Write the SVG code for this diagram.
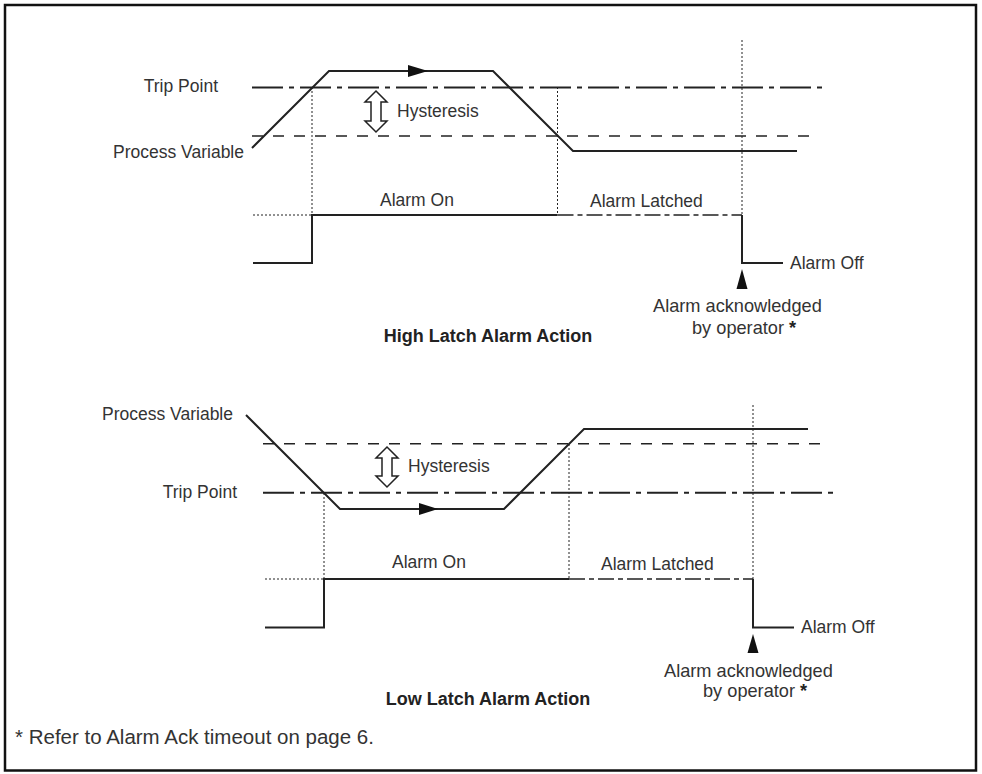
<svg xmlns="http://www.w3.org/2000/svg" width="982" height="774" viewBox="0 0 982 774">
  <style>
    .lbl { font-family: "Liberation Sans", Arial, sans-serif; font-size: 17.5px; fill: #333; }
    .ack { font-size: 18.2px; }
    .foot { font-size: 20.5px; }
    .ttl { font-family: "Liberation Sans", Arial, sans-serif; font-size: 18px; font-weight: bold; fill: #222; }
    .star { font-weight: bold; fill: #222; }
    .pv { fill: none; stroke: #222; stroke-width: 2; stroke-linejoin: miter; }
    .trip { fill: none; stroke: #222; stroke-width: 2; stroke-dasharray: 31 6 5 6; }
    .hyst { fill: none; stroke: #222; stroke-width: 1.5; stroke-dasharray: 11 10; }
    .dot { fill: none; stroke: #222; stroke-width: 1; stroke-dasharray: 2 2; }
    .sig { fill: none; stroke: #222; stroke-width: 2; }
    .latch { fill: none; stroke: #222; stroke-width: 1.5; stroke-dasharray: 16 4 5 4; }
    .harrow { fill: #fff; stroke: #222; stroke-width: 1.5; }
    .tri { fill: #111; stroke: none; }
  </style>

  <rect id="border" x="5" y="5" width="971" height="765.5" fill="#fff" stroke="#111" stroke-width="2.5"/>

  <!-- High latch diagram -->
  <g id="high-latch">
    <g id="high-levels">
      <line class="trip" x1="252" y1="87.5" x2="822" y2="87.5"/>
      <line class="hyst" x1="252" y1="136" x2="817" y2="136"/>
    </g>
    <g id="high-pv">
      <path class="pv" d="M252,148 L329,71 L493,71 L573,151 L797,151"/>
      <polygon class="tri" points="408,65 428,71 408,77"/>
    </g>
    <g id="high-hysteresis">
      <path class="harrow" d="M376,91 L387,102 L381,102 L381,121 L387,121 L376,132 L365,121 L371,121 L371,102 L365,102 Z"/>
      <text class="lbl" x="397" y="117">Hysteresis</text>
    </g>
    <g id="high-guides">
      <line class="dot" x1="312" y1="87" x2="312" y2="215"/>
      <line class="dot" x1="557.5" y1="87" x2="557.5" y2="215"/>
      <line class="dot" x1="742" y1="40" x2="742" y2="215"/>
      <line class="dot" x1="253" y1="215" x2="312" y2="215"/>
    </g>
    <g id="high-signal">
      <path class="sig" d="M253,263 L312,263 L312,215 L557.5,215"/>
      <line class="latch" x1="557.5" y1="215" x2="742" y2="215"/>
      <path class="sig" d="M742,215 L742,263 L783,263"/>
      <polygon class="tri" points="742,269 747.5,289 736.5,289"/>
    </g>
    <g id="high-labels">
      <text class="lbl" x="218" y="92" text-anchor="end">Trip Point</text>
      <text class="lbl" x="244" y="158" text-anchor="end">Process Variable</text>
      <text class="lbl" x="380" y="206">Alarm On</text>
      <text class="lbl" x="590" y="207">Alarm Latched</text>
      <text class="lbl" x="790" y="269">Alarm Off</text>
      <text class="lbl ack" x="653" y="312">Alarm acknowledged</text>
      <text class="lbl ack" x="692" y="334">by operator <tspan class="star">*</tspan></text>
      <text class="ttl" x="488" y="342" text-anchor="middle">High Latch Alarm Action</text>
    </g>
  </g>

  <!-- Low latch diagram -->
  <g id="low-latch">
    <g id="low-levels">
      <line class="hyst" x1="263" y1="443.7" x2="828" y2="443.7"/>
      <line class="trip" x1="263" y1="492.7" x2="833" y2="492.7"/>
    </g>
    <g id="low-pv">
      <path class="pv" d="M246,415 L340,509 L504,509 L584,429 L808,429"/>
      <polygon class="tri" points="419,503 438,509 419,515"/>
    </g>
    <g id="low-hysteresis">
      <path class="harrow" d="M387,447 L398,458 L392,458 L392,476 L398,476 L387,487 L376,476 L382,476 L382,458 L376,458 Z"/>
      <text class="lbl" x="408" y="472">Hysteresis</text>
    </g>
    <g id="low-guides">
      <line class="dot" x1="324" y1="493" x2="324" y2="579"/>
      <line class="dot" x1="569" y1="444" x2="569" y2="579"/>
      <line class="dot" x1="753" y1="405" x2="753" y2="579"/>
      <line class="dot" x1="265" y1="579" x2="324" y2="579"/>
    </g>
    <g id="low-signal">
      <path class="sig" d="M265,627.5 L324,627.5 L324,579 L569,579"/>
      <line class="latch" x1="569" y1="579" x2="753" y2="579"/>
      <path class="sig" d="M753,579 L753,627.5 L794,627.5"/>
      <polygon class="tri" points="753,634 758.5,653 747.5,653"/>
    </g>
    <g id="low-labels">
      <text class="lbl" x="233" y="420" text-anchor="end">Process Variable</text>
      <text class="lbl" x="237" y="498" text-anchor="end">Trip Point</text>
      <text class="lbl" x="392" y="568">Alarm On</text>
      <text class="lbl" x="601" y="570">Alarm Latched</text>
      <text class="lbl" x="801" y="633">Alarm Off</text>
      <text class="lbl ack" x="664" y="677">Alarm acknowledged</text>
      <text class="lbl ack" x="703" y="697">by operator <tspan class="star">*</tspan></text>
      <text class="ttl" x="488" y="705" text-anchor="middle">Low Latch Alarm Action</text>
    </g>
  </g>

  <text id="footnote" class="lbl foot" x="15" y="744">* Refer to Alarm Ack timeout on page 6.</text>
</svg>
